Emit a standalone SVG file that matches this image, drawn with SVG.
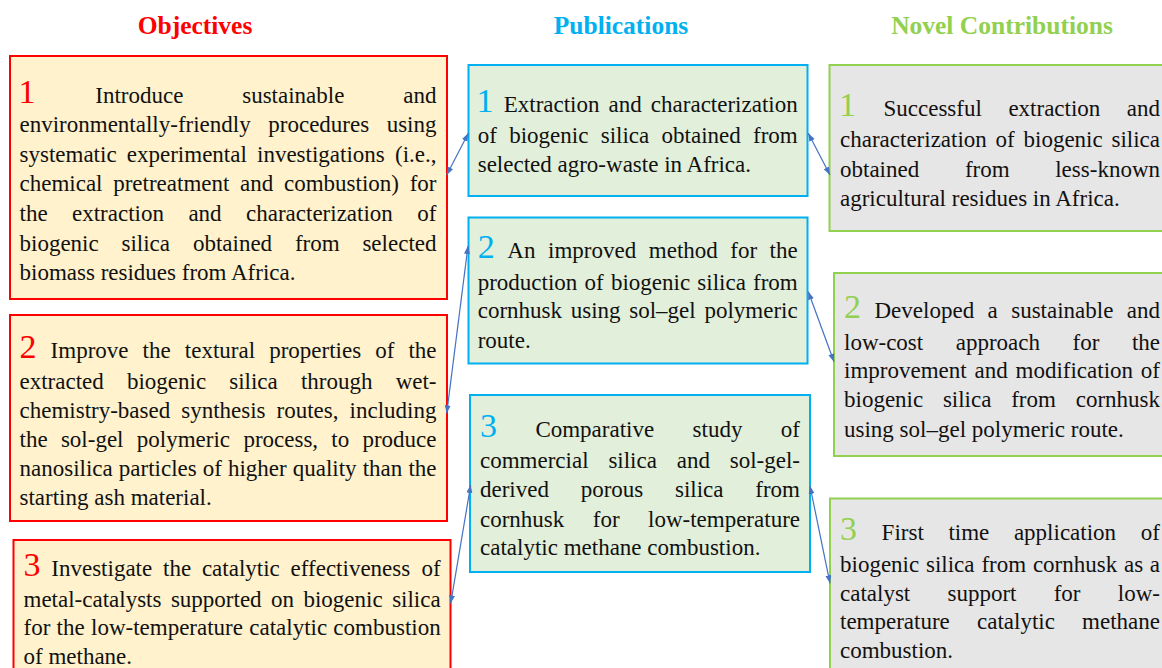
<svg xmlns="http://www.w3.org/2000/svg" width="1162" height="668" viewBox="0 0 1162 668">
<defs>
<style>
.t{font-family:"Liberation Serif","Times New Roman",serif;font-size:23px;fill:#111}
.e{text-anchor:end}
.h{font-family:"Liberation Serif","Times New Roman",serif;font-size:25.5px;font-weight:bold;text-anchor:middle}
.n{font-size:34px}
.ro{fill:#FF0000}.bo{fill:#00B0F0}.go{fill:#92D050}
.obj{fill:#FFF2CC;stroke:#FF0000;stroke-width:2}
.pub{fill:#E2EFDA;stroke:#00B0F0;stroke-width:2}
.nov{fill:#E7E6E6;stroke:#92D050;stroke-width:2}
.c{stroke:#4472C4;stroke-width:1.2;fill:none;marker-start:url(#ah);marker-end:url(#ah)}
</style>
<marker id="ah" markerUnits="userSpaceOnUse" markerWidth="9" markerHeight="7" refX="8" refY="3" orient="auto-start-reverse"><path d="M0,0 L8,3 L0,6 z" fill="#4472C4"/></marker>
</defs>
<rect width="1162" height="668" fill="#fff"/>
<g id="headers">
<text class="h ro" x="195" y="34">Objectives</text>
<text class="h bo" x="621" y="34">Publications</text>
<text class="h go" x="1002" y="34">Novel Contributions</text>
</g>
<g id="obj1">
<rect class="obj" x="10" y="56" width="437" height="243"/>
<text class="t" y="102.7"><tspan class="n ro" x="18.5">1</tspan><tspan x="95.3">Introduce</tspan><tspan x="242.2">sustainable</tspan></text><text class="t e" x="436.5" y="102.7">and</text>
<text class="t" y="132.3"><tspan x="19.5">environmentally-friendly</tspan><tspan x="268.3">procedures</tspan></text><text class="t e" x="436.5" y="132.3">using</text>
<text class="t" y="161.8"><tspan x="19.5">systematic</tspan><tspan x="126.8">experimental</tspan><tspan x="257">investigations</tspan></text><text class="t e" x="436.5" y="161.8">(i.e.,</text>
<text class="t" y="191.4"><tspan x="19.5">chemical</tspan><tspan x="113.2">pretreatment</tspan><tspan x="240.1">and</tspan><tspan x="284">combustion)</tspan></text><text class="t e" x="436.5" y="191.4">for</text>
<text class="t" y="220.9"><tspan x="19.5">the</tspan><tspan x="72">extraction</tspan><tspan x="188.4">and</tspan><tspan x="246">characterization</tspan></text><text class="t e" x="436.5" y="220.9">of</text>
<text class="t" y="250.5"><tspan x="19.5">biogenic</tspan><tspan x="121.5">silica</tspan><tspan x="192.9">obtained</tspan><tspan x="294.9">from</tspan></text><text class="t e" x="436.5" y="250.5">selected</text>
<text class="t" x="19.5" y="280">biomass residues from Africa.</text>
</g>
<g id="obj2">
<rect class="obj" x="10" y="315" width="437" height="206"/>
<text class="t" y="358"><tspan class="n ro" x="19.5">2</tspan><tspan x="50.6">Improve</tspan><tspan x="142.6">the</tspan><tspan x="184.8">textural</tspan><tspan x="269.2">properties</tspan><tspan x="375.3">of</tspan></text><text class="t e" x="436.5" y="358">the</text>
<text class="t" y="388.5"><tspan x="19.5">extracted</tspan><tspan x="126.9">biogenic</tspan><tspan x="229.2">silica</tspan><tspan x="300.9">through</tspan></text><text class="t e" x="436.5" y="388.5">wet-</text>
<text class="t" y="417.5"><tspan x="19.5">chemistry-based</tspan><tspan x="181.2">synthesis</tspan><tspan x="276.5">routes,</tspan></text><text class="t e" x="436.5" y="417.5">including</text>
<text class="t" y="447"><tspan x="19.5">the</tspan><tspan x="60.9">sol-gel</tspan><tspan x="136.8">polymeric</tspan><tspan x="243.4">process,</tspan><tspan x="331.3">to</tspan></text><text class="t e" x="436.5" y="447">produce</text>
<text class="t" y="476"><tspan x="19.5">nanosilica</tspan><tspan x="118.8">particles</tspan><tspan x="202.7">of</tspan><tspan x="227.9">higher</tspan><tspan x="292.7">quality</tspan><tspan x="362.7">than</tspan></text><text class="t e" x="436.5" y="476">the</text>
<text class="t" x="19.5" y="505">starting ash material.</text>
</g>
<g id="obj3">
<rect class="obj" x="13.5" y="540" width="437" height="140"/>
<text class="t" y="576"><tspan class="n ro" x="23.5">3</tspan><tspan x="51.3">Investigate</tspan><tspan x="163">the</tspan><tspan x="201.9">catalytic</tspan><tspan x="290.6">effectiveness</tspan></text><text class="t e" x="440.7" y="576">of</text>
<text class="t" y="606.7"><tspan x="23.5">metal-catalysts</tspan><tspan x="170.9">supported</tspan><tspan x="271">on</tspan><tspan x="303.4">biogenic</tspan></text><text class="t e" x="440.7" y="606.7">silica</text>
<text class="t" y="635"><tspan x="23.5">for</tspan><tspan x="56.6">the</tspan><tspan x="91">low-temperature</tspan><tspan x="249.3">catalytic</tspan></text><text class="t e" x="440.7" y="635">combustion</text>
<text class="t" x="23.5" y="664">of methane.</text>
</g>
<g id="pub1">
<rect class="pub" x="468.5" y="65" width="339" height="131"/>
<text class="t" y="111.7"><tspan class="n bo" x="476.5">1</tspan><tspan x="503.7">Extraction</tspan><tspan x="608.5">and</tspan></text><text class="t e" x="797.7" y="111.7">characterization</text>
<text class="t" y="143.3"><tspan x="477.7">of</tspan><tspan x="509.2">biogenic</tspan><tspan x="600.7">silica</tspan><tspan x="661.6">obtained</tspan></text><text class="t e" x="797.7" y="143.3">from</text>
<text class="t" x="477.7" y="172.3">selected agro-waste in Africa.</text>
</g>
<g id="pub2">
<rect class="pub" x="468.5" y="217.5" width="339" height="146"/>
<text class="t" y="258.3"><tspan class="n bo" x="477.7">2</tspan><tspan x="507.3">An</tspan><tspan x="548">improved</tspan><tspan x="648.8">method</tspan><tspan x="730.3">for</tspan></text><text class="t e" x="797.7" y="258.3">the</text>
<text class="t" y="290"><tspan x="477.7">production</tspan><tspan x="584.6">of</tspan><tspan x="610.9">biogenic</tspan><tspan x="697.3">silica</tspan></text><text class="t e" x="797.7" y="290">from</text>
<text class="t" y="318.3"><tspan x="477.7">cornhusk</tspan><tspan x="570.7">using</tspan><tspan x="629.2">sol–gel</tspan></text><text class="t e" x="797.7" y="318.3">polymeric</text>
<text class="t" x="477.7" y="347.7">route.</text>
</g>
<g id="pub3">
<rect class="pub" x="470" y="395" width="340" height="177"/>
<text class="t" y="436.7"><tspan class="n bo" x="480">3</tspan><tspan x="535.4">Comparative</tspan><tspan x="692.6">study</tspan></text><text class="t e" x="800" y="436.7">of</text>
<text class="t" y="468.3"><tspan x="480">commercial</tspan><tspan x="608.4">silica</tspan><tspan x="676.8">and</tspan></text><text class="t e" x="800" y="468.3">sol-gel-</text>
<text class="t" y="497.3"><tspan x="480">derived</tspan><tspan x="580.7">porous</tspan><tspan x="675">silica</tspan></text><text class="t e" x="800" y="497.3">from</text>
<text class="t" y="526.7"><tspan x="480">cornhusk</tspan><tspan x="592.8">for</tspan></text><text class="t e" x="800" y="526.7">low-temperature</text>
<text class="t" x="480" y="555">catalytic methane combustion.</text>
</g>
<g id="nov1">
<rect class="nov" x="829.5" y="65" width="340" height="166"/>
<text class="t" y="116"><tspan class="n go" x="839">1</tspan><tspan x="883.5">Successful</tspan><tspan x="1008.4">extraction</tspan></text><text class="t e" x="1160" y="116">and</text>
<text class="t" y="146.7"><tspan x="840">characterization</tspan><tspan x="995.6">of</tspan><tspan x="1023.5">biogenic</tspan></text><text class="t e" x="1160" y="146.7">silica</text>
<text class="t" y="176.7"><tspan x="840">obtained</tspan><tspan x="964.9">from</tspan></text><text class="t e" x="1160" y="176.7">less-known</text>
<text class="t" x="840" y="205.7">agricultural residues in Africa.</text>
</g>
<g id="nov2">
<rect class="nov" x="834" y="273" width="340" height="183"/>
<text class="t" y="318.3"><tspan class="n go" x="844">2</tspan><tspan x="874.5">Developed</tspan><tspan x="987.5">a</tspan><tspan x="1011.2">sustainable</tspan></text><text class="t e" x="1160" y="318.3">and</text>
<text class="t" y="350"><tspan x="844">low-cost</tspan><tspan x="955.7">approach</tspan><tspan x="1072.5">for</tspan></text><text class="t e" x="1160" y="350">the</text>
<text class="t" y="378.3"><tspan x="844">improvement</tspan><tspan x="974.5">and</tspan><tspan x="1015.5">modification</tspan></text><text class="t e" x="1160" y="378.3">of</text>
<text class="t" y="407.3"><tspan x="844">biogenic</tspan><tspan x="942.9">silica</tspan><tspan x="1011.2">from</tspan></text><text class="t e" x="1160" y="407.3">cornhusk</text>
<text class="t" x="844" y="436.7">using sol–gel polymeric route.</text>
</g>
<g id="nov3">
<rect class="nov" x="830" y="498.5" width="340" height="180"/>
<text class="t" y="540"><tspan class="n go" x="840">3</tspan><tspan x="881.6">First</tspan><tspan x="948.4">time</tspan><tspan x="1013.9">application</tspan></text><text class="t e" x="1160" y="540">of</text>
<text class="t" y="571.7"><tspan x="840">biogenic</tspan><tspan x="926">silica</tspan><tspan x="981.4">from</tspan><tspan x="1032.9">cornhusk</tspan><tspan x="1124">as</tspan></text><text class="t e" x="1160" y="571.7">a</text>
<text class="t" y="600.7"><tspan x="840">catalyst</tspan><tspan x="947.5">support</tspan><tspan x="1053.7">for</tspan></text><text class="t e" x="1160" y="600.7">low-</text>
<text class="t" y="629.3"><tspan x="840">temperature</tspan><tspan x="977">catalytic</tspan></text><text class="t e" x="1160" y="629.3">methane</text>
<text class="t" x="840" y="658.3">combustion.</text>
</g>
<g id="connectors">
<line class="c" x1="446.7" y1="175" x2="468.3" y2="133.3"/>
<line class="c" x1="808.3" y1="133.3" x2="830" y2="175"/>
<line class="c" x1="446.7" y1="413.3" x2="468" y2="246"/>
<line class="c" x1="808.3" y1="291.7" x2="834" y2="361.7"/>
<line class="c" x1="450.7" y1="603.3" x2="470.7" y2="485"/>
<line class="c" x1="810" y1="486" x2="830" y2="583.3"/>
</g>
</svg>
